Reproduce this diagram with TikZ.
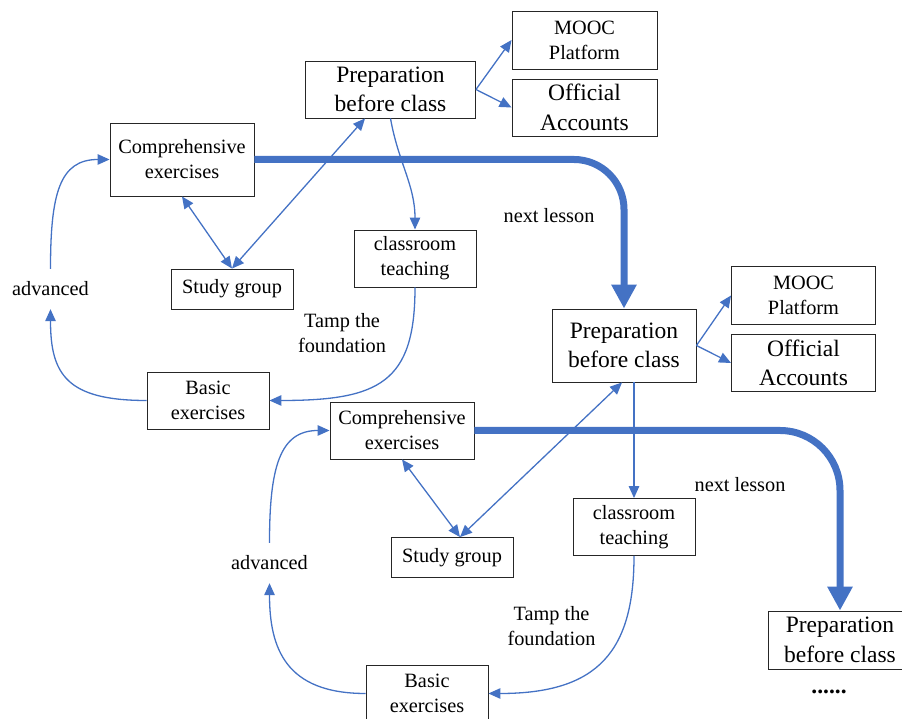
\documentclass[tikz,border=0pt]{standalone}
\usepackage{fontspec}
\setmainfont{Liberation Serif}
\usetikzlibrary{arrows.meta}
\definecolor{linkblue}{HTML}{4472C4}
\tikzset{>={Triangle[length=12pt,width=10.5pt]}}
\tikzset{
  box/.style={draw=black!85, line width=0.9pt, align=center, inner sep=0pt,
    font=\fontsize{20.3}{25}\selectfont},
  bigbox/.style={box, font=\fontsize{23.5}{29.5}\selectfont},
  note/.style={align=center, inner sep=0pt, font=\fontsize{20.3}{25}\selectfont},
  link/.style={draw=linkblue, line width=1.3pt, ->},
  twoway/.style={link, <->},
  nextlink/.style={draw=linkblue, line width=7pt, rounded corners=50pt,
    -{Triangle[length=24pt,width=24pt]}}
}

\begin{document}
\begin{tikzpicture}[x=1pt,y=1pt]
    \useasboundingbox (0,0) rectangle (902,719);
    % first lesson
    \node[bigbox, minimum width=170pt, minimum height=57pt] (prepA) at (390.5,629.5) {Preparation\\before class};
    \node[box, minimum width=145pt, minimum height=58pt] (moocA) at (584.5,679) {MOOC\\Platform};
    \node[bigbox, minimum width=145pt, minimum height=57pt] (offA) at (584.5,611.5) {Official\\Accounts};
    \node[box, minimum width=144pt, minimum height=73pt] (compA) at (182,559.5) {Comprehensive\\exercises};
    \node[box, minimum width=122pt, minimum height=40pt] (studyA) at (232,430) {Study group};
    \node[box, minimum width=122pt, minimum height=57pt] (classA) at (415,460.5) {classroom\\teaching};
    \node[box, minimum width=122pt, minimum height=57pt] (basicA) at (208,318.5) {Basic\\exercises};
    \node[note, minimum height=40pt] (advA) at (50.5,430) {advanced};
    \node[note] (tampA) at (342,386) {Tamp the\\foundation};
    \node[note] (nextA) at (549,503) {next lesson};
    % second lesson
    \node[bigbox, minimum width=144pt, minimum height=73pt] (prepB) at (624,373.5) {Preparation\\before class};
    \node[box, minimum width=144pt, minimum height=58pt] (moocB) at (803.5,423.5) {MOOC\\Platform};
    \node[bigbox, minimum width=144pt, minimum height=57pt] (offB) at (803.5,356) {Official\\Accounts};
    \node[box, minimum width=144pt, minimum height=57pt] (compB) at (402,288.5) {Comprehensive\\exercises};
    \node[box, minimum width=122pt, minimum height=40pt] (studyB) at (452,161.5) {Study group};
    \node[box, minimum width=122pt, minimum height=57pt] (classB) at (634,192) {classroom\\teaching};
    \node[box, minimum width=122pt, minimum height=57pt] (basicB) at (427,25.5) {Basic\\exercises};
    \node[note, minimum height=40pt] (advB) at (269.5,156) {advanced};
    \node[note] (tampB) at (551.5,93) {Tamp the\\foundation};
    \node[note] (nextB) at (740,234) {next lesson};
    % third lesson
    \node[bigbox, minimum width=144pt, minimum height=58pt] (prepC) at (840,79) {Preparation\\before class};
    \node[note, font=\fontsize{23.5}{29.5}\selectfont\bfseries] (dots) at (829,27) {......};

    \draw[link] (prepA.east) -- (moocA.west);
    \draw[link] (prepA.east) -- (offA.west);
    \draw[link] (prepA.south) to[out=-80,in=90] (classA.north);
    \draw[twoway] (studyA.north) -- ([xshift=-25.5pt]prepA.south);
    \draw[twoway] (compA.south) -- (studyA.north);
    \draw[link] (classA.south) .. controls +(0,-95) and +(110,0) .. (basicA.east);
    \draw[link] (basicA.west) .. controls +(-80,0) and +(0,-65) .. (advA.south);
    \draw[link] (advA.north) .. controls +(0,75) and +(-50,0) .. (compA.west);
    \draw[nextlink] (compA.east) -| (prepB.north);

    \draw[link] (prepB.east) -- (moocB.west);
    \draw[link] (prepB.east) -- (offB.west);
    \draw[link] (prepB.south -| classB.north) -- (classB.north);
    \draw[twoway] ([xshift=8pt]studyB.north) -- ([xshift=-2pt]prepB.south);
    \draw[twoway] (compB.south) -- ([xshift=8pt]studyB.north);
    \draw[link] (classB.south) .. controls +(0,-95) and +(110,0) .. (basicB.east);
    \draw[link] (basicB.west) .. controls +(-80,0) and +(0,-65) .. (advB.south);
    \draw[link] (advB.north) .. controls +(0,75) and +(-50,0) .. (compB.west);
    \draw[nextlink, rounded corners=60pt] (compB.east) -| (prepC.north);
\end{tikzpicture}
\end{document}
